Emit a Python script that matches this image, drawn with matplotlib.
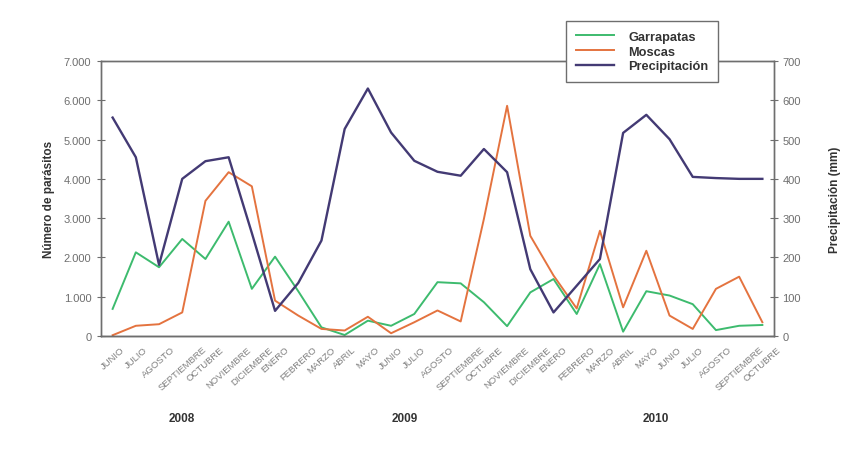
import numpy as np
import matplotlib.pyplot as plt
from matplotlib.ticker import FuncFormatter

plt.rcParams['font.family'] = ['Liberation Sans', 'DejaVu Sans']

meses = ["JUNIO", "JULIO", "AGOSTO", "SEPTIEMBRE", "OCTUBRE", "NOVIEMBRE", "DICIEMBRE",
         "ENERO", "FEBRERO", "MARZO", "ABRIL", "MAYO", "JUNIO", "JULIO", "AGOSTO",
         "SEPTIEMBRE", "OCTUBRE", "NOVIEMBRE", "DICIEMBRE",
         "ENERO", "FEBRERO", "MARZO", "ABRIL", "MAYO", "JUNIO", "JULIO", "AGOSTO",
         "SEPTIEMBRE", "OCTUBRE"]
anios = ["2008", "2009", "2010"]
anio_pos = [3, 12.6, 23.4]

garrapatas = [690, 2130, 1750, 2470, 1960, 2910, 1200, 2020, 1140, 220, 25, 390, 260, 560,
              1370, 1340, 860, 250, 1110, 1450, 560, 1830, 110, 1140, 1030, 810, 150, 260, 280]
moscas = [20, 260, 300, 600, 3440, 4170, 3810, 900, 520, 180, 140, 490, 70, 350,
          650, 370, 2980, 5860, 2550, 1540, 700, 2680, 730, 2170, 520, 180, 1200, 1510, 350]
precipitacion = [556, 455, 181, 400, 445, 455, 262, 64, 135, 243, 527, 630, 518, 446,
                 418, 408, 476, 417, 170, 60, 128, 196, 517, 563, 501, 405, 402, 400, 400]

c_garr = '#3dbb6e'
c_mosc = '#e4733f'
c_prec = '#433a74'
gris = '#6e6e6e'

fig = plt.figure(figsize=(8.59, 4.60), dpi=100)
ax = fig.add_axes([0.1176, 0.2674, 0.7834, 0.5978])
ax2 = ax.twinx()

x = np.arange(len(meses))
l1, = ax.plot(x, garrapatas, color=c_garr, lw=1.4, label='Garrapatas')
l2, = ax.plot(x, moscas, color=c_mosc, lw=1.4, label='Moscas')
l3, = ax2.plot(x, precipitacion, color=c_prec, lw=1.7, label='Precipitación')

ax.set_xlim(-0.5, len(meses) - 0.5)
ax.set_ylim(0, 7000)
ax2.set_ylim(0, 700)
ax.set_yticks(range(0, 7001, 1000))
ax2.set_yticks(range(0, 701, 100))
ax.yaxis.set_major_formatter(FuncFormatter(lambda v, p: f"{int(v):,}".replace(",", ".")))

ax.set_xticks(x)
ax.set_xticklabels(meses, rotation=42, ha='center', va='top',
                   fontsize=6.8, color='#808080')
ax.tick_params(axis='x', length=0, pad=6)

ax.tick_params(axis='y', direction='inout', length=6, labelsize=8, labelcolor=gris,
               color=gris, pad=4)
ax2.tick_params(axis='y', direction='inout', length=6, labelsize=8, labelcolor=gris,
                color=gris, pad=3)

for a in (ax, ax2):
    for s in a.spines.values():
        s.set_color(gris)
        s.set_linewidth(1.0)
ax.spines['bottom'].set_color('#222222')

ax.set_ylabel('Número de parásitos', fontsize=8.5, fontweight='bold', color='#333333',
              labelpad=6)
ax2.set_ylabel('Precipitación (mm)', fontsize=8.5, fontweight='bold', color='#333333',
               labelpad=20)

for pos, anio in zip(anio_pos, anios):
    ax.text(pos, -0.30, anio, transform=ax.get_xaxis_transform(), ha='center', va='center',
            fontsize=8.5, fontweight='bold', color='#333333')

leg = ax2.legend(handles=[l1, l2, l3], loc='upper left', bbox_to_anchor=(0.682, 1.168),
                 fancybox=False, framealpha=1, edgecolor=gris, handlelength=3.0,
                 borderpad=0.75, labelspacing=0.22, handletextpad=1.1,
                 prop={'size': 9.2, 'weight': 'bold'})
for t in leg.get_texts():
    t.set_color('#333333')
leg.get_frame().set_linewidth(1.0)

fig.savefig('out.png', dpi=100, facecolor='white')
